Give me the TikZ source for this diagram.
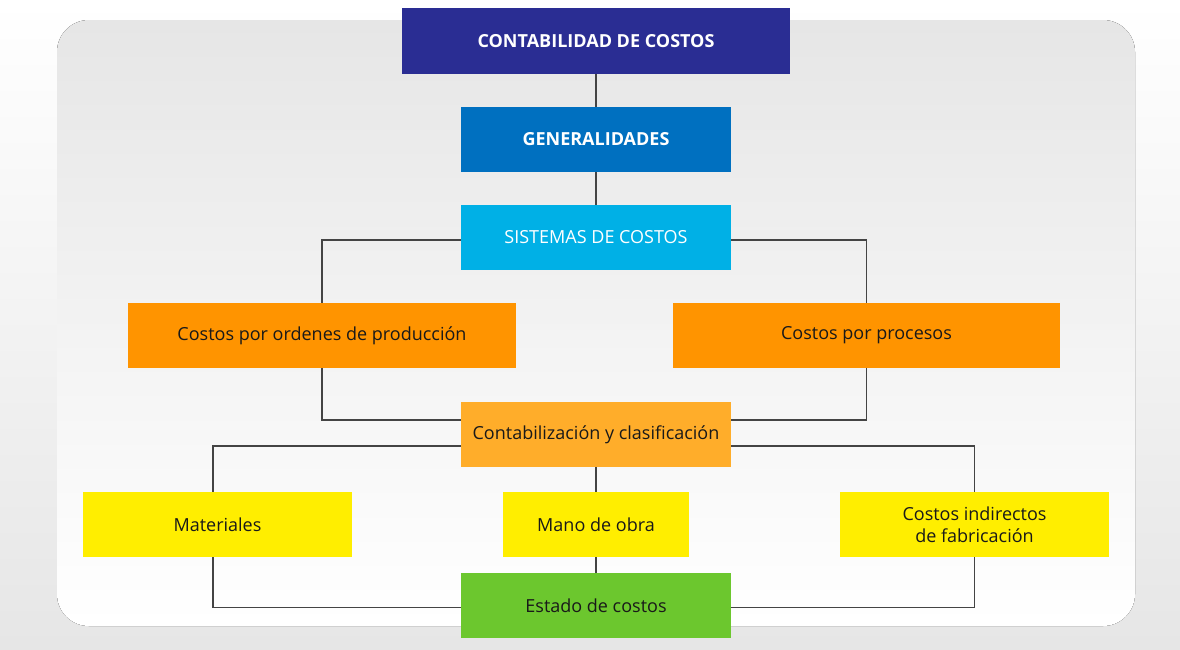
\documentclass[tikz,border=0pt]{standalone}
\usepackage{fontspec}
\setmainfont{Open Sans}
\definecolor{navy}{HTML}{2A2D93}
\definecolor{azul}{HTML}{0070C0}
\definecolor{celeste}{HTML}{00B0E6}
\definecolor{naranja}{HTML}{FF9400}
\definecolor{ambar}{HTML}{FFAD2A}
\definecolor{amarillo}{HTML}{FFEE00}
\definecolor{verde}{HTML}{6CC72E}
\definecolor{linegray}{HTML}{444444}
\definecolor{bgdark}{HTML}{E6E6E6}
\definecolor{panel}{HTML}{E6E6E6}
\begin{document}
\begin{tikzpicture}[
        x=1pt, y=-1pt,
        box/.style={minimum height=65pt, inner sep=0pt, align=center, text=black!90,
            font=\fontsize{18}{22}\selectfont},
        head/.style={box, text=white, font=\fontsize{18}{22}\selectfont\bfseries},
        link/.style={draw=linegray, line width=1.8pt}
    ]
        \useasboundingbox (0,0) rectangle (1180,649);
        % background and panel
        \fill[top color=white, bottom color=bgdark] (0,0) rectangle (1180,649);
        \fill[top color=panel, bottom color=white, rounded corners=32pt] (57,20) rectangle (1135,626);
        % boxes
        \node[head, fill=navy, minimum width=388pt, minimum height=66pt] (cc) at (596,41) {CONTABILIDAD DE COSTOS};
        \node[head, fill=azul, minimum width=270pt] (gen) at (596,139.5) {GENERALIDADES};
        \node[box, fill=celeste, text=white, minimum width=270pt] (sis) at (596,237.5) {SISTEMAS DE COSTOS};
        \node[box, fill=naranja, minimum width=388pt] (ord) at (322,335.5) {Costos por ordenes de producción};
        \node[box, fill=naranja, minimum width=387pt] (pro) at (866.5,335.5) {Costos por procesos};
        \node[box, fill=ambar, minimum width=270pt] (con) at (596,434.5) {Contabilización y clasificación};
        \node[box, fill=amarillo, minimum width=269pt] (mat) at (217.5,524.5) {Materiales};
        \node[box, fill=amarillo, minimum width=186pt] (mo) at (596,524.5) {Mano de obra};
        \node[box, fill=amarillo, minimum width=269pt] (cif) at (974.5,524.5) {Costos indirectos\\de fabricación};
        \node[box, fill=verde, minimum width=270pt] (est) at (596,605.5) {Estado de costos};
        % connectors
        \draw[link] (cc) -- (gen);
        \draw[link] (gen) -- (sis);
        \draw[link] ([yshift=-2.5pt]sis.west) -| (ord.north);
        \draw[link] ([yshift=-2.5pt]sis.east) -| (pro.north);
        \draw[link] (ord.south) |- ([yshift=14.5pt]con.west);
        \draw[link] (pro.south) |- ([yshift=14.5pt]con.east);
        \draw[link] ([yshift=-11.5pt]con.west) -| ([xshift=-4.5pt]mat.north);
        \draw[link] ([yshift=-11.5pt]con.east) -| (cif.north);
        \draw[link] (con) -- (mo);
        \draw[link] (mo) -- (est);
        \draw[link] ([xshift=-4.5pt]mat.south) |- ([yshift=-2pt]est.west);
        \draw[link] (cif.south) |- ([yshift=-2pt]est.east);
    \end{tikzpicture}
\end{document}
